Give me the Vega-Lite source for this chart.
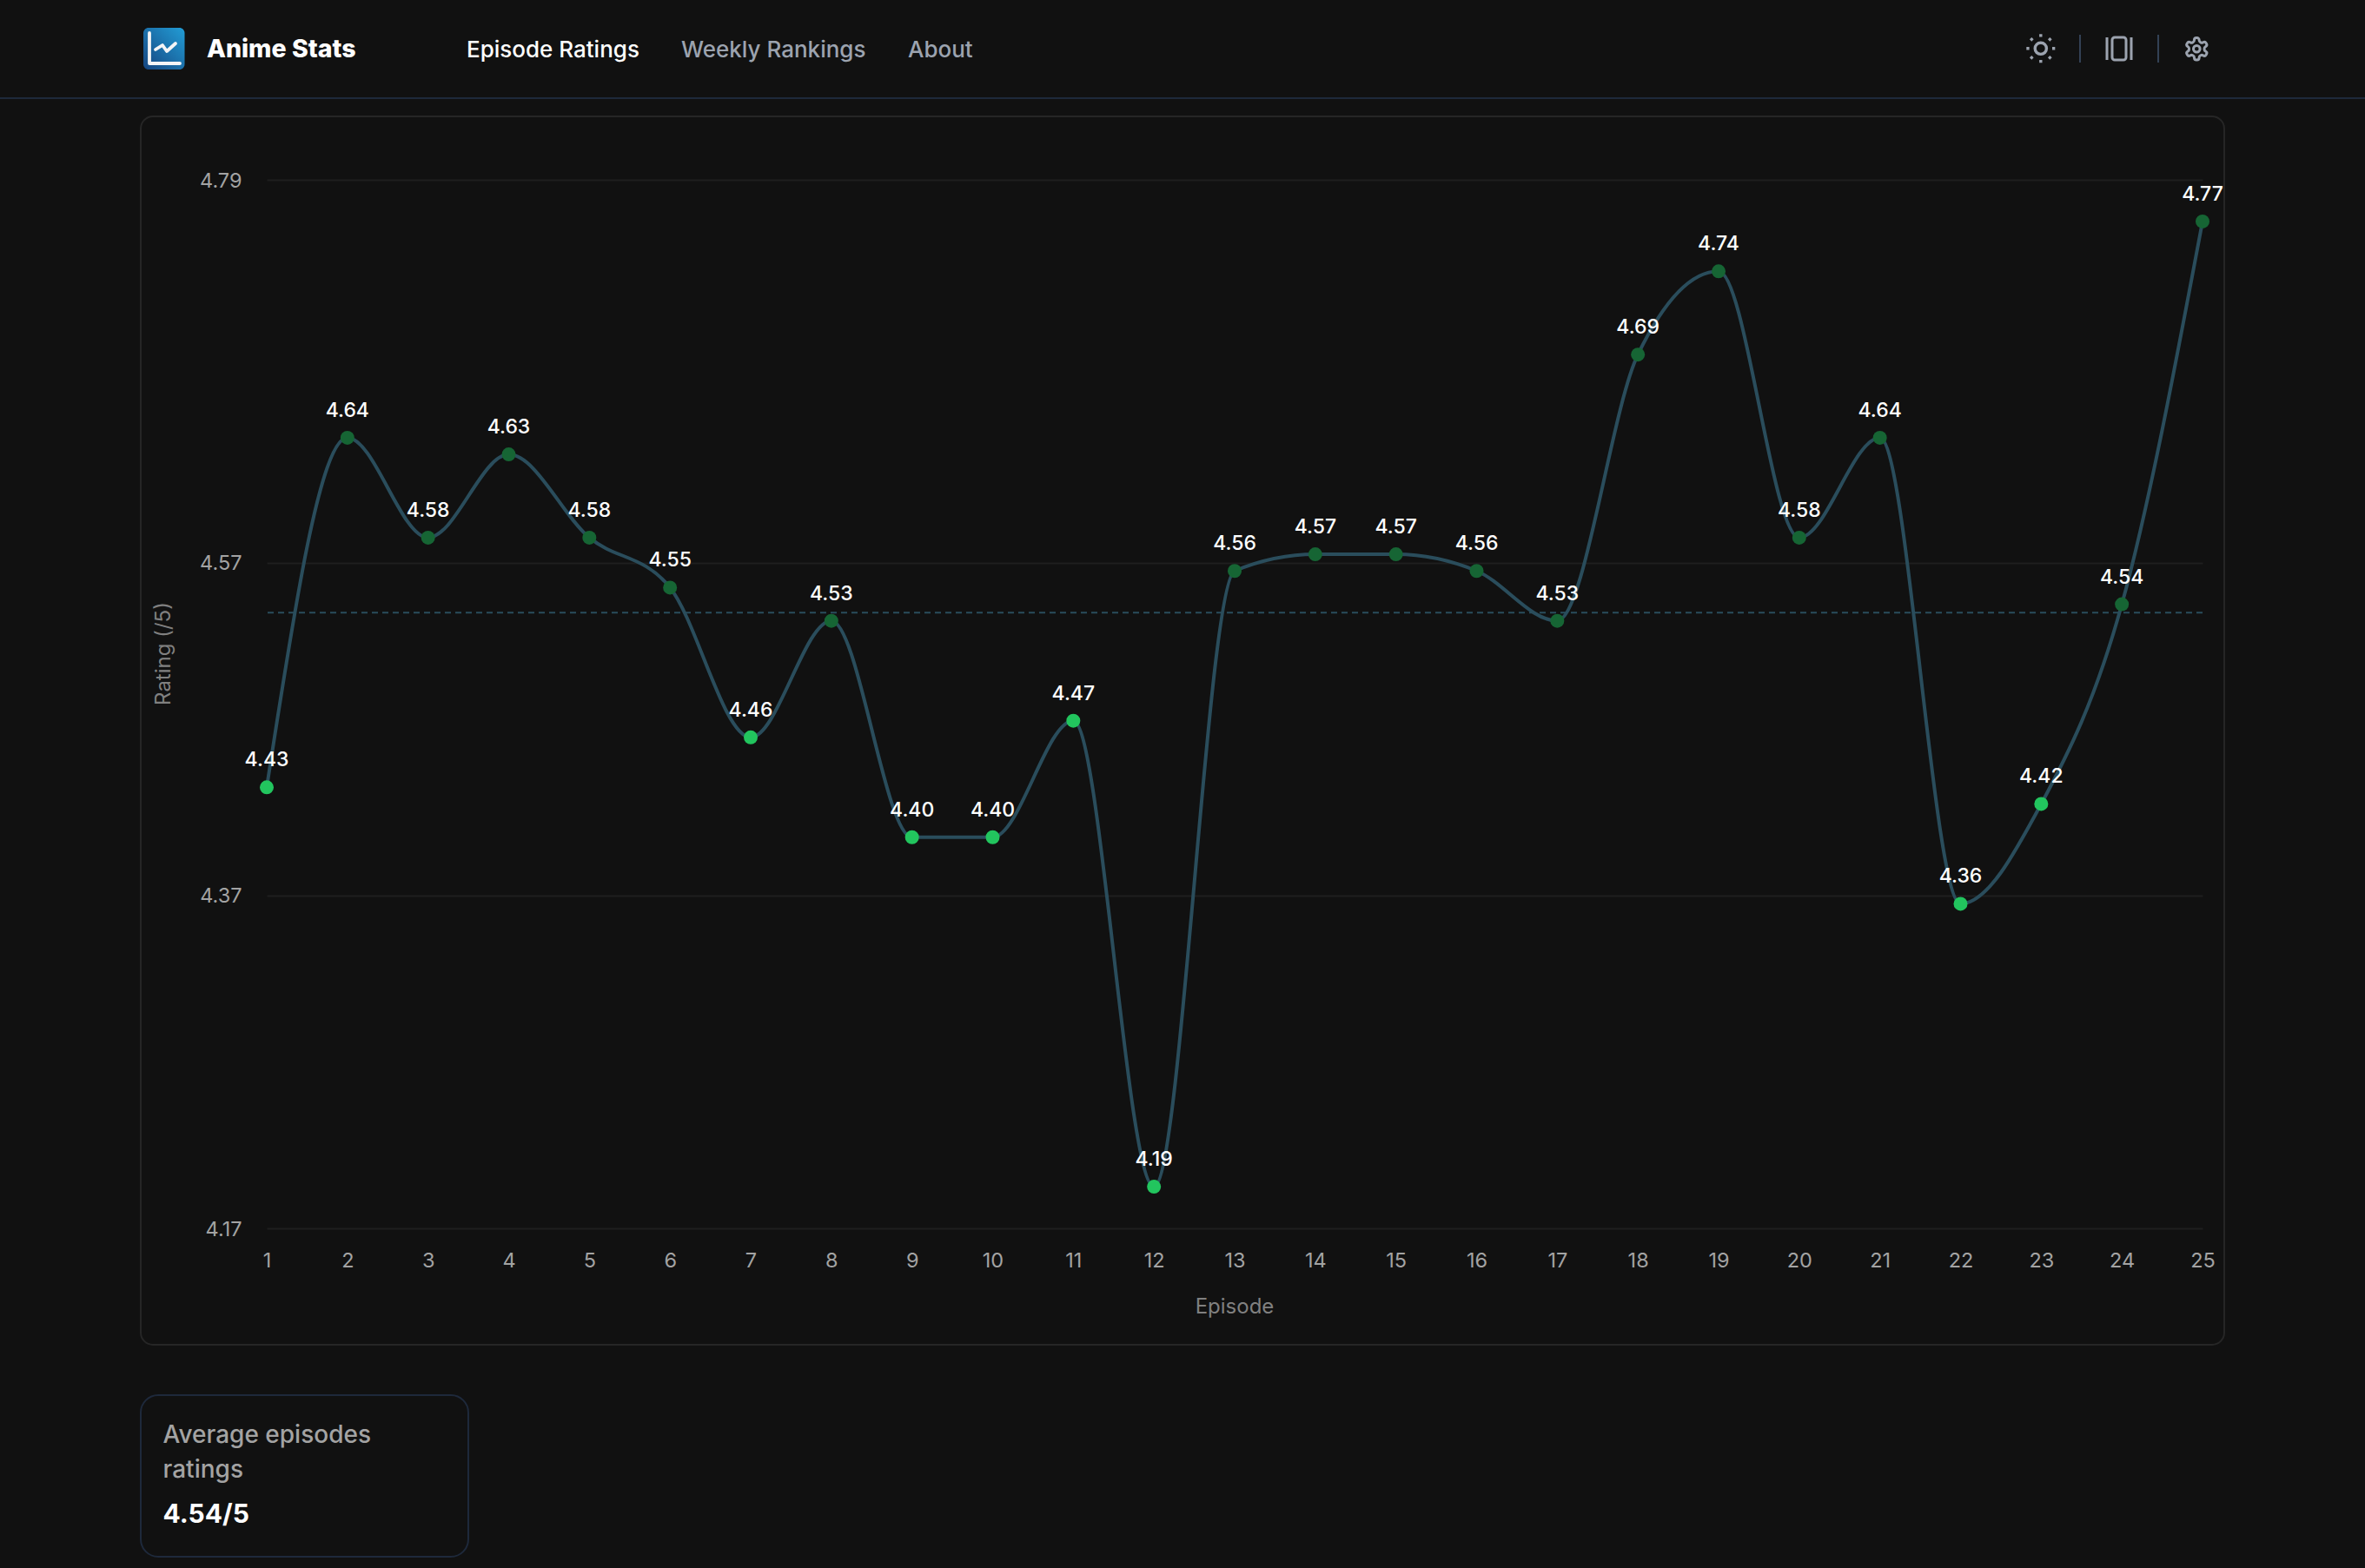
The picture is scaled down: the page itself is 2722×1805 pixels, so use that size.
{"$schema":"https://vega.github.io/schema/vega-lite/v6.json","width":2228,"height":1207,"autosize":{"type":"none"},"padding":{"left":307,"top":207,"right":187,"bottom":391},"background":"#111111","config":{"view":{"stroke":null},"font":"Inter","text":{"font":"Inter"}},"data":{"name":"ep","values":[{"episode":1,"rating":4.43,"band":"low"},{"episode":2,"rating":4.64,"band":"high"},{"episode":3,"rating":4.58,"band":"high"},{"episode":4,"rating":4.63,"band":"high"},{"episode":5,"rating":4.58,"band":"high"},{"episode":6,"rating":4.55,"band":"high"},{"episode":7,"rating":4.46,"band":"low"},{"episode":8,"rating":4.53,"band":"high"},{"episode":9,"rating":4.40,"band":"low"},{"episode":10,"rating":4.40,"band":"low"},{"episode":11,"rating":4.47,"band":"low"},{"episode":12,"rating":4.19,"band":"low"},{"episode":13,"rating":4.56,"band":"high"},{"episode":14,"rating":4.57,"band":"high"},{"episode":15,"rating":4.57,"band":"high"},{"episode":16,"rating":4.56,"band":"high"},{"episode":17,"rating":4.53,"band":"high"},{"episode":18,"rating":4.69,"band":"high"},{"episode":19,"rating":4.74,"band":"high"},{"episode":20,"rating":4.58,"band":"high"},{"episode":21,"rating":4.64,"band":"high"},{"episode":22,"rating":4.36,"band":"low"},{"episode":23,"rating":4.42,"band":"low"},{"episode":24,"rating":4.54,"band":"high"},{"episode":25,"rating":4.77,"band":"high"}]},"layer":[{"data":{"values":[{}]},"mark":{"type":"rect","cornerRadius":14,"fill":"transparent","stroke":"#262626","strokeWidth":2},"encoding":{"x":{"value":-145},"x2":{"value":2253},"y":{"value":-73},"y2":{"value":1341}}},{"data":{"values":[{}]},"mark":{"type":"rect","cornerRadius":20,"fill":"transparent","stroke":"#1e293b","strokeWidth":2},"encoding":{"x":{"value":-145},"x2":{"value":232},"y":{"value":1399},"y2":{"value":1585}}},{"data":{"values":[{}]},"mark":{"type":"rule","stroke":"#1e293b","strokeWidth":2},"encoding":{"x":{"value":-307},"x2":{"value":2415},"y":{"value":-94}}},{"data":{"values":[{}]},"mark":{"type":"rect","cornerRadius":6,"fill":{"gradient":"linear","x1":1,"y1":0,"x2":0,"y2":1,"stops":[{"offset":0,"color":"#229dd6"},{"offset":1,"color":"#15447f"}]}},"encoding":{"x":{"value":-142},"x2":{"value":-94.5},"y":{"value":-175},"y2":{"value":-127}}},{"data":{"values":[{}]},"mark":{"type":"point","shape":"M-17 -18V17H18M-10 1L-2 -4L3 3L13 -6","size":4,"filled":false,"stroke":"#f3f4f6","strokeWidth":3.8,"strokeCap":"round","strokeJoin":"round","opacity":1},"encoding":{"x":{"value":-118},"y":{"value":-151}}},{"data":{"values":[{"label":"Anime Stats"}]},"mark":{"type":"text","align":"left","baseline":"middle","fontSize":28.5,"fontWeight":800,"fill":"#ffffff"},"encoding":{"text":{"field":"label"},"x":{"value":-69},"y":{"value":-150}}},{"data":{"values":[{"label":"Episode Ratings"}]},"mark":{"type":"text","align":"left","baseline":"middle","fontSize":26,"fontWeight":500,"fill":"#ffffff"},"encoding":{"text":{"field":"label"},"x":{"value":230},"y":{"value":-149}}},{"data":{"values":[{"label":"Weekly Rankings"}]},"mark":{"type":"text","align":"left","baseline":"middle","fontSize":26,"fontWeight":500,"fill":"#9ca3af"},"encoding":{"text":{"field":"label"},"x":{"value":477},"y":{"value":-149}}},{"data":{"values":[{"label":"About"}]},"mark":{"type":"text","align":"left","baseline":"middle","fontSize":26,"fontWeight":500,"fill":"#9ca3af"},"encoding":{"text":{"field":"label"},"x":{"value":738},"y":{"value":-149}}},{"data":{"values":[{}]},"mark":{"type":"point","shape":"M12 8A4 4 0 1 0 12 16A4 4 0 1 0 12 8ZM12 2V4M12 20V22M4.93 4.93L6.34 6.34M17.66 17.66L19.07 19.07M2 12H4M20 12H22M6.34 17.66L4.93 19.07M19.07 4.93L17.66 6.34","size":10.9,"filled":false,"stroke":"#9ca3af","strokeWidth":3.4,"opacity":1},"encoding":{"x":{"value":2022},"y":{"value":-171}}},{"data":{"values":[{}]},"mark":{"type":"rule","stroke":"#334155","strokeWidth":2},"encoding":{"x":{"value":2087},"y":{"value":-167},"y2":{"value":-135}}},{"data":{"values":[{}]},"mark":{"type":"rule","stroke":"#334155","strokeWidth":2},"encoding":{"x":{"value":2177},"y":{"value":-167},"y2":{"value":-135}}},{"data":{"values":[{}]},"mark":{"type":"point","shape":"M-14 -13V13M14 -13V13M-5 -13H5A3 3 0 0 1 8 -10V10A3 3 0 0 1 5 13H-5A3 3 0 0 1 -8 10V-10A3 3 0 0 1 -5 -13Z","size":4,"filled":false,"stroke":"#9ca3af","strokeWidth":3,"opacity":1},"encoding":{"x":{"value":2132},"y":{"value":-151}}},{"data":{"values":[{}]},"mark":{"type":"point","shape":"M12.22 2h-.44a2 2 0 0 0-2 2v.18a2 2 0 0 1-1 1.73l-.43.25a2 2 0 0 1-2 0l-.15-.08a2 2 0 0 0-2.73.73l-.22.38a2 2 0 0 0 .73 2.73l.15.1a2 2 0 0 1 1 1.72v.51a2 2 0 0 1-1 1.74l-.15.09a2 2 0 0 0-.73 2.73l.22.38a2 2 0 0 0 2.73.73l.15-.08a2 2 0 0 1 2 0l.43.25a2 2 0 0 1 1 1.73V20a2 2 0 0 0 2 2h.44a2 2 0 0 0 2-2v-.18a2 2 0 0 1 1-1.73l.43-.25a2 2 0 0 1 2 0l.15.08a2 2 0 0 0 2.73-.73l.22-.39a2 2 0 0 0-.73-2.73l-.15-.08a2 2 0 0 1-1-1.74v-.5a2 2 0 0 1 1-1.74l.15-.09a2 2 0 0 0 .73-2.73l-.22-.38a2 2 0 0 0-2.73-.73l-.15.08a2 2 0 0 1-2 0l-.43-.25a2 2 0 0 1-1-1.73V4a2 2 0 0 0-2-2zM12 9A3 3 0 1 0 12 15A3 3 0 1 0 12 9Z","size":6.5,"filled":false,"stroke":"#9ca3af","strokeWidth":3,"opacity":1},"encoding":{"x":{"value":2206},"y":{"value":-166}}},{"data":{"values":[{"label":"Average episodes"}]},"mark":{"type":"text","align":"left","baseline":"middle","fontSize":28,"fontWeight":500,"fill":"#a3a3a3"},"encoding":{"text":{"field":"label"},"x":{"value":-119.5},"y":{"value":1446}}},{"data":{"values":[{"label":"ratings"}]},"mark":{"type":"text","align":"left","baseline":"middle","fontSize":28,"fontWeight":500,"fill":"#a3a3a3"},"encoding":{"text":{"field":"label"},"x":{"value":-119.5},"y":{"value":1486}}},{"data":{"values":[{"label":"4.54/5"}]},"mark":{"type":"text","align":"left","baseline":"middle","fontSize":30,"fontWeight":700,"fill":"#ffffff"},"encoding":{"text":{"field":"label"},"x":{"value":-119.5},"y":{"value":1537}}},{"mark":{"type":"line","interpolate":"monotone","stroke":"#2a4d5c","strokeWidth":4},"encoding":{"x":{"field":"episode","type":"quantitative","scale":{"domain":[1,25],"nice":false,"zero":false},"axis":{"values":[1,2,3,4,5,6,7,8,9,10,11,12,13,14,15,16,17,18,19,20,21,22,23,24,25],"format":"d","title":"Episode","domain":false,"ticks":false,"grid":false,"labelColor":"#a3a3a3","labelFontSize":23.5,"labelPadding":25.5,"labelFont":"Inter","labelFlush":false,"labelOverlap":false,"titleColor":"#808080","titleFontSize":24,"titleFontWeight":400,"titleFont":"Inter","titleX":1113.5,"titleY":90,"titleBaseline":"middle"}},"y":{"field":"rating","type":"quantitative","scale":{"domain":[4.165,4.795],"nice":false,"zero":false},"axis":{"values":[4.165,4.365,4.565,4.795],"format":".2f","title":"Rating (/5)","domain":false,"ticks":false,"grid":true,"gridColor":"#1f1f1f","gridWidth":2,"labelColor":"#a3a3a3","labelFontSize":23.5,"labelPadding":29,"labelOffset":1,"labelFont":"Inter","titleColor":"#808080","titleFontSize":24,"titleFontWeight":400,"titleFont":"Inter","titleX":-119,"titleY":545,"titleBaseline":"middle"}}}},{"data":{"values":[{"average":4.535}]},"mark":{"type":"rule","stroke":"#2a4d5c","strokeWidth":2,"strokeDash":[7,5]},"encoding":{"y":{"field":"average","type":"quantitative"}}},{"mark":{"type":"point","filled":true,"size":256,"opacity":1},"encoding":{"x":{"field":"episode","type":"quantitative"},"y":{"field":"rating","type":"quantitative"},"color":{"field":"band","type":"nominal","scale":{"domain":["low","high"],"range":["#22c55e","#166534"]},"legend":null}}},{"mark":{"type":"text","dy":-31,"baseline":"middle","fontSize":23,"fontWeight":500,"fill":"#ffffff","font":"Inter"},"encoding":{"x":{"field":"episode","type":"quantitative"},"y":{"field":"rating","type":"quantitative"},"text":{"field":"rating","type":"quantitative","format":".2f"}}}]}
